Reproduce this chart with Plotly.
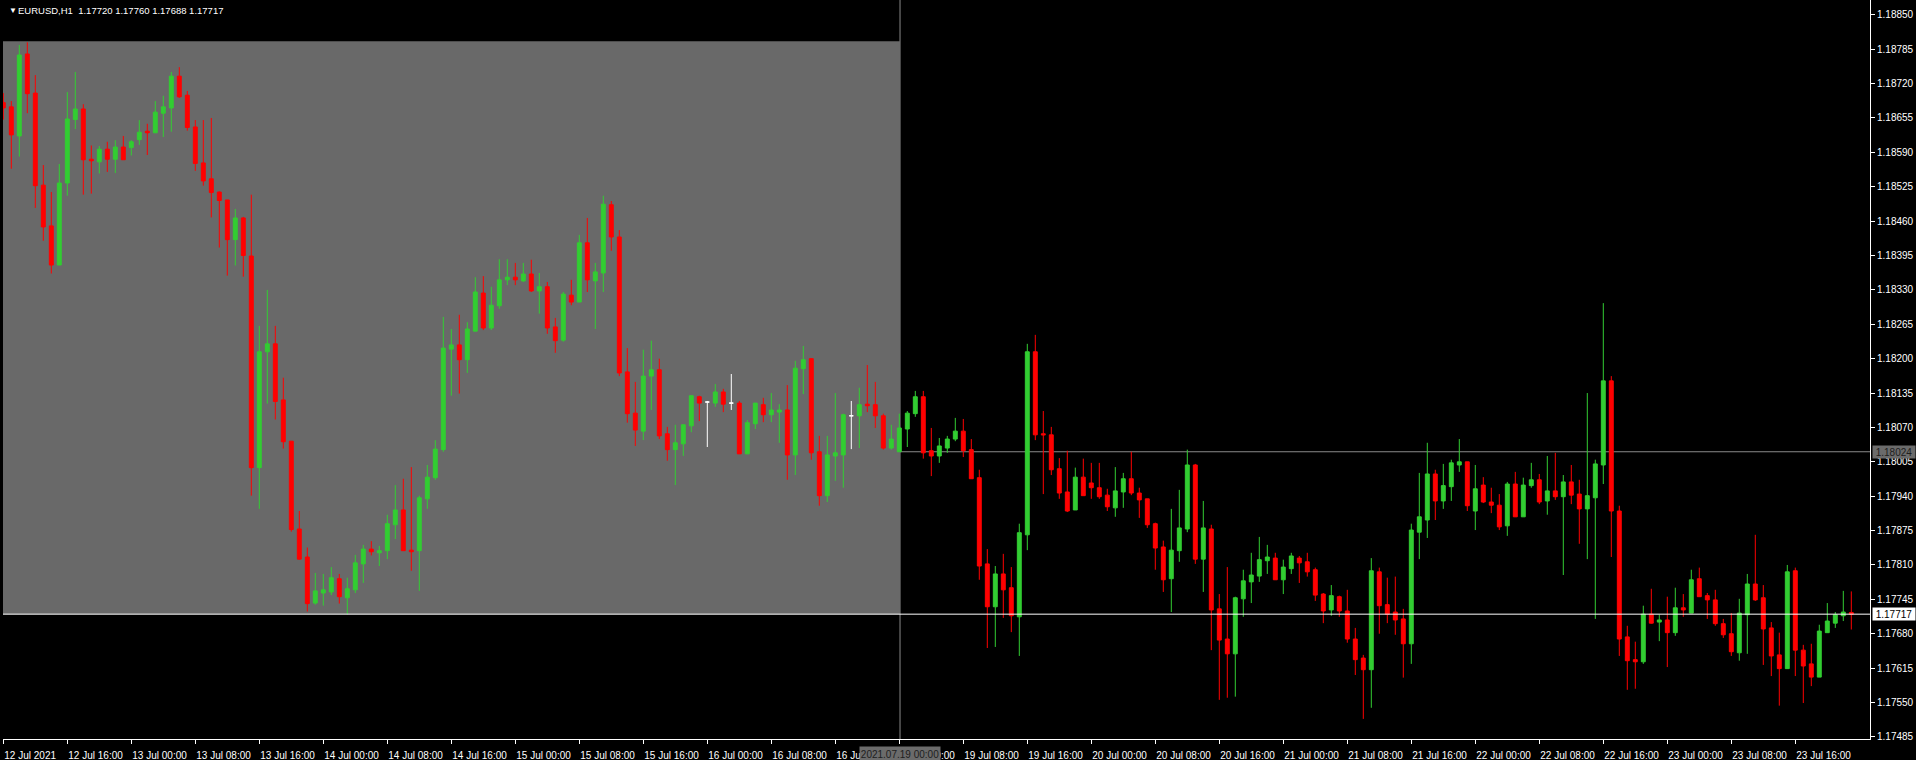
import plotly.graph_objects as go

# ---------------- data (EURUSD H1, 12 Jul 2021 08:00 .. 23 Jul 2021 23:00) ----------------
open_ = [
1.18684,1.18676,1.18621,1.18776,1.18702,1.18528,1.18451,1.18377,1.18532,1.18652,
1.18672,1.18577,1.18572,1.18596,1.18577,1.18600,1.18599,1.18614,1.18630,1.18627,
1.18664,1.18674,1.18734,1.18698,1.18638,1.18570,1.18540,1.18515,1.18500,1.18425,
1.18466,1.18394,1.17994,1.18213,1.18228,1.18122,1.18044,1.17878,1.17825,1.17738,
1.17757,1.17759,1.17784,1.17748,1.17763,1.17812,1.17840,1.17833,1.17837,1.17886,
1.17914,1.17838,1.17837,1.17935,1.17975,1.18028,1.18218,1.18226,1.18198,1.18252,
1.18324,1.18258,1.18300,1.18349,1.18354,1.18347,1.18360,1.18328,1.18336,1.18260,
1.18235,1.18320,1.18307,1.18419,1.18347,1.18362,1.18491,1.18430,1.18175,1.18097,
1.18063,1.18167,1.18179,1.18058,1.18028,1.18039,1.18073,1.18128,1.18118,1.18116,
1.18137,1.18116,1.18116,1.18020,1.18077,1.18113,1.18094,1.18099,1.18103,1.18018,
1.18181,1.18200,1.18024,1.17941,1.18016,1.18018,1.18092,1.18092,1.18114,1.18113,
1.18092,1.18031,1.18024,1.18067,1.18096,1.18128,1.18026,1.18016,1.18031,1.18048,
1.18063,1.18028,1.17975,1.17812,1.17731,1.17793,1.17767,1.17712,1.17867,1.18213,
1.18058,1.18056,1.17992,1.17948,1.17914,1.17976,1.17965,1.17956,1.17942,1.17918,
1.17948,1.17973,1.17946,1.17935,1.17888,1.17844,1.17784,1.17837,1.17878,1.17999,
1.17821,1.17878,1.17727,1.17670,1.17642,1.17746,1.17778,1.17789,1.17818,1.17823,
1.17782,1.17803,1.17823,1.17816,1.17801,1.17755,1.17725,1.17750,1.17723,1.17670,
1.17634,1.17612,1.17797,1.17735,1.17721,1.17708,1.17661,1.17872,1.17895,1.17982,
1.17931,1.17958,1.17999,1.18005,1.17912,1.17961,1.17929,1.17923,1.17884,1.17963,
1.17901,1.17960,1.17971,1.17931,1.17950,1.17939,1.17967,1.17944,1.17916,1.17937,
1.17999,1.18158,1.17912,1.17674,1.17631,1.17627,1.17717,1.17702,1.17706,1.17682,
1.17729,1.17719,1.17784,1.17752,1.17744,1.17699,1.17680,1.17644,1.17716,1.17774,
1.17748,1.17691,1.17640,1.17614,1.17799,1.17649,1.17623,1.17598,1.17682,1.17700,
1.17714,1.17720]
high = [
1.18702,1.18687,1.18793,1.18798,1.18736,1.18566,1.18515,1.18568,1.18704,1.18742,
1.18681,1.18603,1.18602,1.18610,1.18613,1.18621,1.18613,1.18651,1.18644,1.18687,
1.18697,1.18742,1.18751,1.18706,1.18651,1.18651,1.18655,1.18516,1.18500,1.18483,
1.18468,1.18510,1.18262,1.18330,1.18262,1.18164,1.18044,1.17912,1.17843,1.17795,
1.17793,1.17806,1.17793,1.17786,1.17829,1.17848,1.17855,1.17846,1.17905,1.17961,
1.17973,1.17995,1.17941,1.17999,1.18046,1.18279,1.18256,1.18283,1.18269,1.18354,
1.18356,1.18336,1.18388,1.18388,1.18381,1.18381,1.18387,1.18362,1.18345,1.18277,
1.18326,1.18349,1.18434,1.18466,1.18381,1.18508,1.18498,1.18443,1.18220,1.18156,
1.18217,1.18234,1.18200,1.18071,1.18075,1.18075,1.18130,1.18130,1.18120,1.18152,
1.18143,1.18171,1.18120,1.18084,1.18116,1.18126,1.18135,1.18114,1.18150,1.18196,
1.18224,1.18201,1.18054,1.18054,1.18135,1.18096,1.18120,1.18145,1.18188,1.18156,
1.18096,1.18075,1.18096,1.18101,1.18139,1.18139,1.18069,1.18050,1.18054,1.18088,
1.18086,1.18048,1.17990,1.17840,1.17808,1.17831,1.17806,1.17888,1.18228,1.18245,
1.18101,1.18071,1.18012,1.18026,1.17994,1.18011,1.18003,1.18003,1.17954,1.17995,
1.17984,1.18024,1.17956,1.17935,1.17890,1.17856,1.17916,1.17952,1.18028,1.18001,
1.17931,1.17886,1.17755,1.17806,1.17750,1.17801,1.17833,1.17863,1.17848,1.17833,
1.17820,1.17833,1.17827,1.17833,1.17805,1.17757,1.17772,1.17752,1.17763,1.17691,
1.17640,1.17823,1.17805,1.17786,1.17788,1.17727,1.17888,1.17984,1.18041,1.17990,
1.18001,1.18009,1.18048,1.18005,1.17999,1.17976,1.17956,1.17944,1.17967,1.17986,
1.17975,1.18003,1.17982,1.18016,1.18022,1.17980,1.17999,1.17971,1.18135,1.18009,
1.18305,1.18167,1.17922,1.17695,1.17665,1.17733,1.17765,1.17716,1.17750,1.17767,
1.17755,1.17801,1.17805,1.17757,1.17763,1.17708,1.17719,1.17746,1.17793,1.17867,
1.17772,1.17702,1.17682,1.17810,1.17805,1.17659,1.17661,1.17697,1.17738,1.17721,
1.17761,1.17760]
low = [
1.18652,1.18559,1.18582,1.18664,1.18485,1.18423,1.18361,1.18377,1.18508,1.18634,
1.18510,1.18512,1.18550,1.18553,1.18551,1.18576,1.18584,1.18604,1.18585,1.18627,
1.18619,1.18629,1.18693,1.18631,1.18555,1.18527,1.18467,1.18410,1.18357,1.18376,
1.18355,1.17941,1.17916,1.18115,1.18085,1.18030,1.17873,1.17820,1.17722,1.17735,
1.17733,1.17753,1.17737,1.17717,1.17757,1.17776,1.17828,1.17808,1.17821,1.17859,
1.17837,1.17799,1.17761,1.17916,1.17971,1.18024,1.18130,1.18134,1.18173,1.18252,
1.18254,1.18254,1.18294,1.18339,1.18339,1.18345,1.18326,1.18285,1.18247,1.18211,
1.18232,1.18301,1.18307,1.18326,1.18256,1.18326,1.18404,1.18167,1.18079,1.18035,
1.18046,1.18103,1.18048,1.18007,1.17961,1.18016,1.18061,1.18082,1.18033,1.18109,
1.18099,1.18103,1.18020,1.18020,1.18067,1.18080,1.18080,1.18041,1.17971,1.17980,
1.18133,1.18009,1.17922,1.17929,1.17969,1.17956,1.18029,1.18031,1.18099,1.18069,
1.18028,1.18028,1.18024,1.18033,1.18090,1.18011,1.17978,1.18003,1.18022,1.18044,
1.18014,1.17973,1.17782,1.17653,1.17655,1.17710,1.17683,1.17638,1.17838,1.18046,
1.17944,1.17980,1.17935,1.17910,1.17914,1.17941,1.17935,1.17935,1.17912,1.17901,
1.17918,1.17942,1.17899,1.17880,1.17801,1.17759,1.17721,1.17816,1.17872,1.17812,
1.17759,1.17649,1.17555,1.17559,1.17561,1.17712,1.17738,1.17778,1.17793,1.17782,
1.17755,1.17793,1.17776,1.17788,1.17742,1.17700,1.17714,1.17712,1.17663,1.17602,
1.17519,1.17540,1.17680,1.17700,1.17678,1.17597,1.17623,1.17821,1.17861,1.17895,
1.17916,1.17931,1.17986,1.17912,1.17876,1.17927,1.17908,1.17876,1.17865,1.17901,
1.17901,1.17956,1.17925,1.17905,1.17933,1.17791,1.17925,1.17850,1.17821,1.17708,
1.17963,1.17825,1.17638,1.17574,1.17576,1.17623,1.17699,1.17666,1.17617,1.17676,
1.17712,1.17719,1.17750,1.17708,1.17695,1.17672,1.17638,1.17629,1.17642,1.17742,
1.17621,1.17600,1.17544,1.17614,1.17600,1.17549,1.17581,1.17598,1.17682,1.17691,
1.17704,1.17688]
close = [
1.18674,1.18623,1.18774,1.18701,1.18527,1.18449,1.18377,1.18532,1.18653,1.18672,
1.18576,1.18574,1.18596,1.18577,1.18600,1.18576,1.18610,1.18628,1.18627,1.18666,
1.18676,1.18734,1.18695,1.18637,1.18569,1.18536,1.18514,1.18499,1.18425,1.18466,
1.18395,1.17994,1.18213,1.18228,1.18119,1.18043,1.17877,1.17821,1.17737,1.17761,
1.17763,1.17786,1.17750,1.17765,1.17814,1.17840,1.17835,1.17837,1.17888,1.17914,
1.17837,1.17835,1.17937,1.17976,1.18029,1.18220,1.18226,1.18198,1.18256,1.18326,
1.18258,1.18301,1.18349,1.18354,1.18349,1.18360,1.18328,1.18336,1.18258,1.18234,
1.18322,1.18307,1.18419,1.18349,1.18364,1.18492,1.18430,1.18173,1.18096,1.18065,
1.18167,1.18179,1.18054,1.18028,1.18041,1.18075,1.18130,1.18116,1.18118,1.18137,
1.18114,1.18116,1.18020,1.18079,1.18116,1.18094,1.18103,1.18103,1.18018,1.18182,
1.18198,1.18022,1.17941,1.18018,1.18022,1.18094,1.18092,1.18113,1.18111,1.18092,
1.18031,1.18048,1.18069,1.18097,1.18128,1.18022,1.18016,1.18035,1.18048,1.18063,
1.18026,1.17973,1.17808,1.17731,1.17793,1.17763,1.17714,1.17871,1.18213,1.18056,
1.18056,1.17990,1.17946,1.17912,1.17976,1.17941,1.17956,1.17939,1.17920,1.17950,
1.17973,1.17946,1.17933,1.17886,1.17842,1.17782,1.17838,1.17880,1.17999,1.17821,
1.17880,1.17725,1.17668,1.17642,1.17748,1.17780,1.17791,1.17820,1.17825,1.17782,
1.17806,1.17827,1.17814,1.17797,1.17753,1.17723,1.17752,1.17723,1.17670,1.17631,
1.17612,1.17799,1.17733,1.17717,1.17706,1.17661,1.17876,1.17901,1.17982,1.17931,
1.17960,1.18003,1.18005,1.17922,1.17954,1.17929,1.17923,1.17882,1.17963,1.17901,
1.17961,1.17971,1.17929,1.17950,1.17939,1.17967,1.17942,1.17916,1.17941,1.18001,
1.18158,1.17912,1.17670,1.17629,1.17627,1.17717,1.17700,1.17706,1.17682,1.17729,
1.17725,1.17782,1.17750,1.17744,1.17699,1.17678,1.17646,1.17719,1.17774,1.17744,
1.17689,1.17638,1.17614,1.17797,1.17649,1.17619,1.17598,1.17685,1.17704,1.17716,
1.17721,1.17717]

tick_bars = [0, 8, 16, 24, 32, 40, 48, 56, 64, 72, 80, 88, 96, 104, 112, 120, 128,
             136, 144, 152, 160, 168, 176, 184, 192, 200, 208, 216, 224]
tick_text = ["12 Jul 2021", "12 Jul 16:00", "13 Jul 00:00", "13 Jul 08:00", "13 Jul 16:00",
             "14 Jul 00:00", "14 Jul 08:00", "14 Jul 16:00", "15 Jul 00:00", "15 Jul 08:00",
             "15 Jul 16:00", "16 Jul 00:00", "16 Jul 08:00", "16 Jul 16:00", "19 Jul 00:00",
             "19 Jul 08:00", "19 Jul 16:00", "20 Jul 00:00", "20 Jul 08:00", "20 Jul 16:00",
             "21 Jul 00:00", "21 Jul 08:00", "21 Jul 16:00", "22 Jul 00:00", "22 Jul 08:00",
             "22 Jul 16:00", "23 Jul 00:00", "23 Jul 08:00", "23 Jul 16:00"]
price_ticks = [1.17485, 1.17550, 1.17615, 1.17680, 1.17745, 1.17810, 1.17875, 1.17940,
               1.18005, 1.18070, 1.18135, 1.18200, 1.18265, 1.18330, 1.18395, 1.18460,
               1.18525, 1.18590, 1.18655, 1.18720, 1.18785, 1.18850]

symbol = "EURUSD,H1"
cross_bar = 112
cross_price = 1.18024
cross_time = "2021.07.19 00:00"
bid_price = 1.17717
rect_top = 1.18800

# ---------------- figure ----------------
W, H = 1916, 760
ML, MR, MT, MB = 3, 46, 0, 21
PW, PH = W - ML - MR, H - MT - MB
GREEN = "#32CD32"
RED = "#FF0000"
GREY = "#6B6B6B"
FONT = "Liberation Sans"
XFONT = "Liberation Sans Narrow, Liberation Sans"

n = len(open_)
xs = list(range(n))
doji = [i for i in xs if open_[i] == close[i]]
normal = [i for i in xs if open_[i] != close[i]]

def pick(arr, idx):
    return [arr[i] for i in idx]

fig = go.Figure()
fig.add_trace(go.Candlestick(
    x=normal, open=pick(open_, normal), high=pick(high, normal),
    low=pick(low, normal), close=pick(close, normal),
    increasing=dict(line=dict(color=GREEN, width=1), fillcolor=GREEN),
    decreasing=dict(line=dict(color=RED, width=1), fillcolor=RED),
    whiskerwidth=0, showlegend=False, hoverinfo="skip"))
fig.add_trace(go.Candlestick(
    x=doji, open=pick(open_, doji), high=pick(high, doji),
    low=pick(low, doji), close=pick(close, doji),
    increasing=dict(line=dict(color="white", width=1), fillcolor="white"),
    decreasing=dict(line=dict(color="white", width=1), fillcolor="white"),
    whiskerwidth=0, showlegend=False, hoverinfo="skip"))

px_per_bar = 8.0
x0 = (ML - 3.3) / px_per_bar
x1 = (W - MR - 3.3) / px_per_bar
ymin, ymax = 1.17481, 1.18878
cx = cross_bar + 0.09

shapes = [
    dict(type="rect", xref="x", yref="y", x0=x0, x1=cx, y0=bid_price, y1=rect_top,
         fillcolor="#696969", line=dict(width=0), layer="below"),
    dict(type="line", xref="x", yref="paper", x0=cx, x1=cx, y0=0, y1=1,
         line=dict(color="#8A8A8A", width=1), layer="below"),
    dict(type="line", xref="x", yref="y", x0=cx, x1=x1, y0=cross_price, y1=cross_price,
         line=dict(color="#8A8A8A", width=1), layer="below"),
    dict(type="line", xref="paper", yref="y", x0=0, x1=1, y0=bid_price, y1=bid_price,
         line=dict(color="white", width=1), layer="above"),
]

def pxx(px):
    return (px - ML) / PW

def pxy(py):
    return 1 - (py - MT) / PH

annotations = [
    dict(xref="paper", yref="paper", x=pxx(7), y=pxy(10), text="▼", showarrow=False,
         xanchor="left", yanchor="middle", font=dict(family=FONT, size=8, color="white")),
    dict(xref="paper", yref="paper", x=pxx(16), y=pxy(10.5),
         text=f"{symbol}  {open_[-1]:.5f} {high[-1]:.5f} {low[-1]:.5f} {close[-1]:.5f}",
         showarrow=False, xanchor="left", yanchor="middle",
         font=dict(family=FONT, size=9.5, color="white")),
    dict(xref="paper", yref="y", x=pxx(1872), y=cross_price,
         text=f"{cross_price:.5f}", showarrow=False, xanchor="left", yanchor="middle",
         width=42, height=12, align="center", valign="middle",
         bgcolor=GREY, borderpad=0, font=dict(family=FONT, size=10, color="#1E1E1E")),
    dict(xref="paper", yref="y", x=pxx(1872), y=bid_price,
         text=f"{bid_price:.5f}", showarrow=False, xanchor="left", yanchor="middle",
         width=42, height=12, align="center", valign="middle",
         bgcolor="white", borderpad=0, font=dict(family=FONT, size=10, color="black")),
    dict(xref="x", yref="paper", x=cx, y=pxy(746), text=cross_time, showarrow=False,
         xanchor="center", yanchor="top", width=80, height=14, align="center", valign="middle",
         bgcolor=GREY, borderpad=0,
         font=dict(family=XFONT, size=10, color="#1E1E1E")),
]

fig.update_layout(
    width=W, height=H,
    margin=dict(l=ML, r=MR, t=MT, b=MB, pad=0),
    paper_bgcolor="black", plot_bgcolor="black",
    shapes=shapes, annotations=annotations,
    showlegend=False, hovermode=False,
    xaxis=dict(range=[x0, x1], rangeslider=dict(visible=False), showgrid=False, zeroline=False,
               showline=True, linecolor="white", linewidth=1,
               ticks="outside", ticklen=4, tickcolor="white", tickwidth=1,
               tickvals=tick_bars, ticktext=tick_text, ticklabelposition="outside right",
               ticklabelstandoff=7,
               tickfont=dict(family=XFONT, size=10, color="white"), fixedrange=True),
    yaxis=dict(range=[ymin, ymax], side="right", showgrid=False, zeroline=False,
               showline=True, linecolor="white", linewidth=1,
               ticks="outside", ticklen=4, tickcolor="white", tickwidth=1,
               tickvals=price_ticks, ticktext=[f"{p:.5f}" for p in price_ticks],
               tickfont=dict(family=FONT, size=10, color="white"), fixedrange=True),
)

fig.write_html("out.html", config={"displayModeBar": False},
               post_script="document.body.style.margin='0px';document.body.style.overflow='hidden';")
